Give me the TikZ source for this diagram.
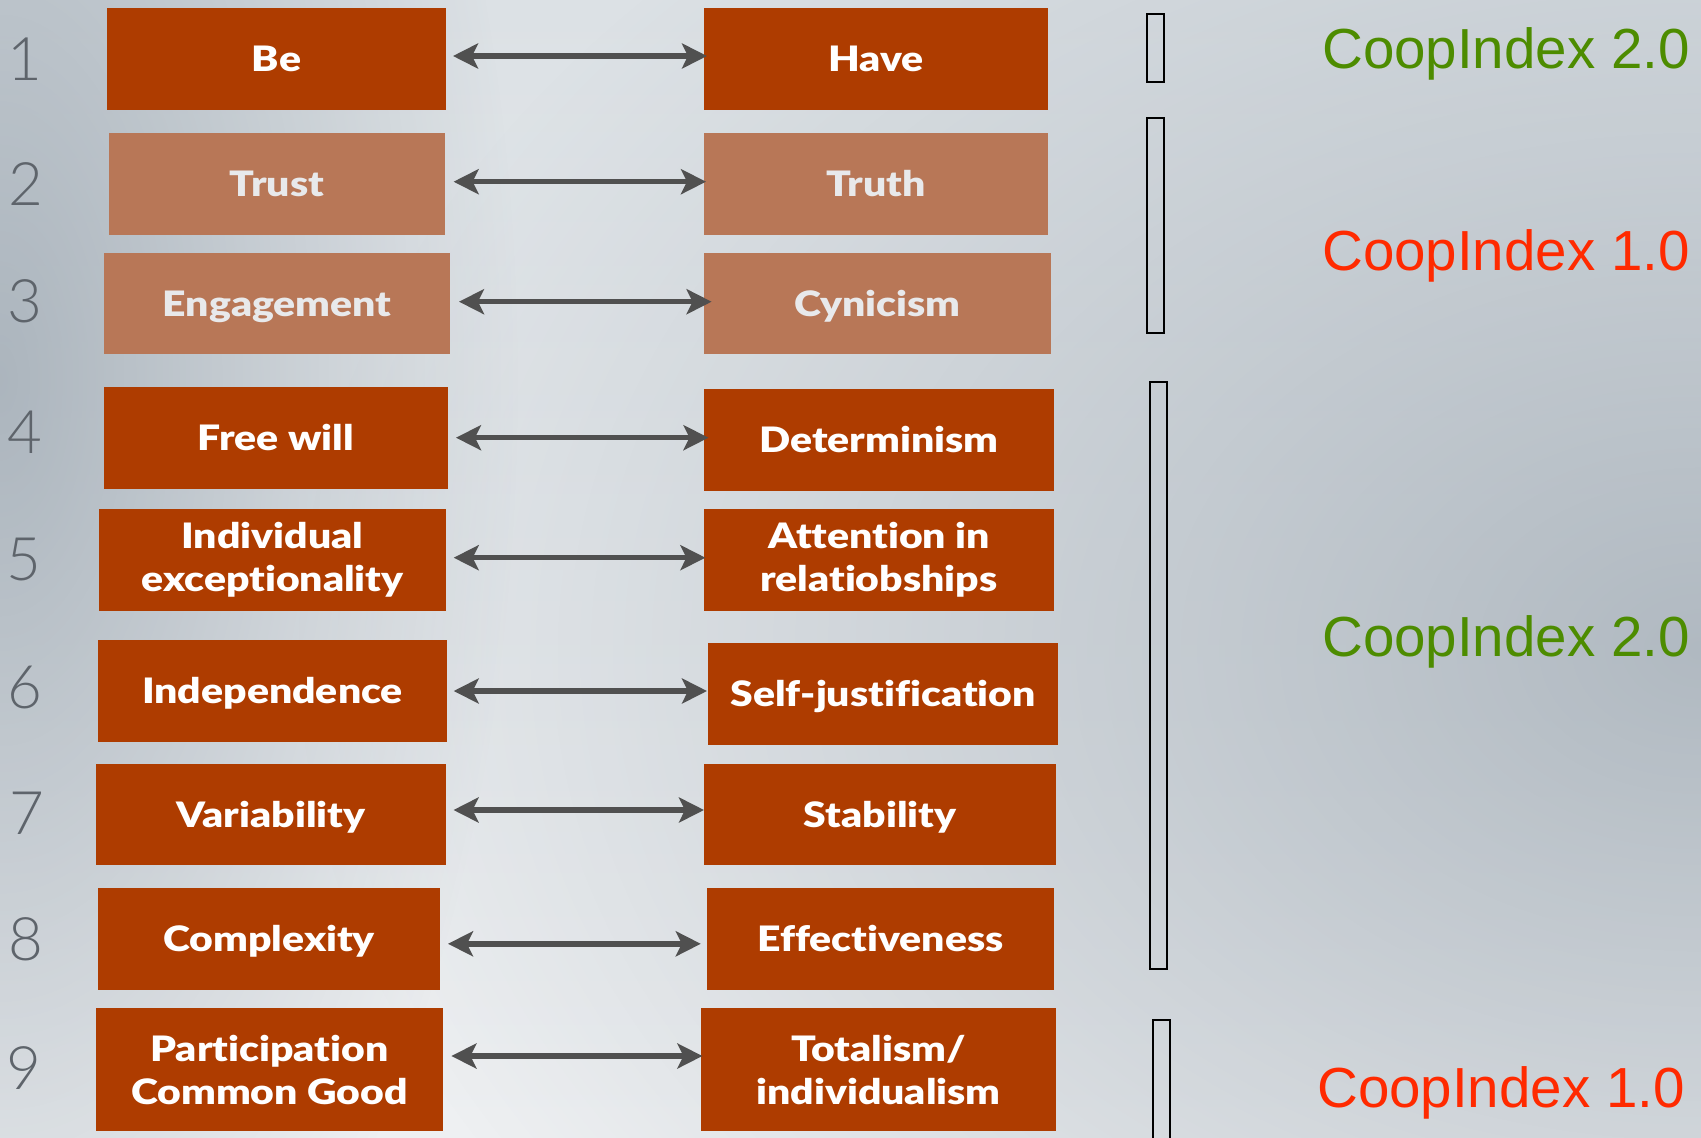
\documentclass[tikz,border=0pt]{standalone}
\usepackage{fontspec}
\usetikzlibrary{arrows.meta,fadings}
\newfontfamily\boxfont{Lato Black}[FakeStretch=1.17, Ligatures=NoCommon]
\newfontfamily\numfont{Lato Light}
\newfontfamily\labfont{Liberation Sans}
\definecolor{boxdark}{HTML}{AE3C00}
\definecolor{boxlight}{HTML}{B87757}
\definecolor{lighttext}{HTML}{E8E9EB}
\definecolor{arrgray}{HTML}{505050}
\definecolor{numgray}{HTML}{5E646B}
\definecolor{coopgreen}{HTML}{4D8C00}
\definecolor{coopred}{HTML}{FF2A00}
\definecolor{bgtop}{HTML}{DCE1E5}
\definecolor{bgmid}{HTML}{CBD1D7}
\definecolor{bgbot}{HTML}{EEF0F2}
\definecolor{sidedark}{HTML}{9AA5AF}
\tikzfading[name=softblob, inner color=transparent!0, outer color=transparent!100]
\begin{document}
\begin{tikzpicture}[x=1pt,y=-1pt,
  pbox/.style={rectangle, inner sep=0pt, outer sep=0pt, anchor=north west,
    font=\boxfont\fontsize{35}{43}\selectfont, align=center},
  dk/.style={pbox, fill=boxdark, text=white},
  lt/.style={pbox, fill=boxlight, text=lighttext},
  one/.style={text height=25pt, text depth=0pt},
  twoarr/.style={draw=arrgray, line width=5.5pt,
    arrows={Stealth[length=25pt,width=25pt,inset=6pt]-Stealth[length=25pt,width=25pt,inset=6pt]}},
  num/.style={font=\numfont\fontsize{60}{60}\selectfont, text=numgray, inner sep=0pt},
  coop/.style={font=\labfont\fontsize{56.5}{57}\selectfont, inner sep=0pt, anchor=base west},
  brk/.style={draw=black, line width=2.2pt}
]
% background
\useasboundingbox (0,0) rectangle (1701,1138);
\shade[top color=bgtop, middle color=bgmid, bottom color=bgbot] (0,0) rectangle (1701,1138);
\begin{scope}
\clip (0,0) rectangle (1701,1138);
\fill[sidedark, path fading=softblob, fill opacity=0.75] (0,380) ellipse [x radius=520, y radius=1100];
\fill[sidedark, path fading=softblob, fill opacity=0.7] (1701,650) ellipse [x radius=1400, y radius=1000];
\end{scope}

% numbers
\node[num] (n1) at (25,58.7) {1};
\node[num] (n2) at (26,184.5) {2};
\node[num] (n3) at (25,301.6) {3};
\node[num] (n4) at (25,432) {4};
\node[num] (n5) at (24,560) {5};
\node[num] (n6) at (25,688) {6};
\node[num] (n7) at (27,813) {7};
\node[num] (n8) at (26,939) {8};
\node[num] (n9) at (24,1068) {9};

% boxes
\node[dk,one,minimum width=339pt,minimum height=102pt] (L1) at (107,8) {Be};
\node[dk,one,minimum width=344pt,minimum height=102pt] (R1) at (704,8) {Have};
\node[lt,one,minimum width=336pt,minimum height=102pt] (L2) at (109,133) {Trust};
\node[lt,one,minimum width=344pt,minimum height=102pt] (R2) at (704,133) {Truth};
\node[lt,one,minimum width=346pt,minimum height=101pt] (L3) at (104,253) {Engagement};
\node[lt,one,minimum width=347pt,minimum height=101pt] (R3) at (704,253) {Cynicism};
\node[dk,one,minimum width=344pt,minimum height=102pt] (L4) at (104,387) {Free will};
\node[dk,one,minimum width=350pt,minimum height=102pt] (R4) at (704,389) {Determinism};
\node[dk,minimum width=347pt,minimum height=102pt] (L5) at (99,509) {Individual\\exceptionality};
\node[dk,minimum width=350pt,minimum height=102pt] (R5) at (704,509) {Attention in\\relatiobships};
\node[dk,one,minimum width=349pt,minimum height=102pt] (L6) at (98,640) {Independence};
\node[dk,one,minimum width=350pt,minimum height=102pt] (R6) at (708,643) {Self-justification};
\node[dk,one,minimum width=350pt,minimum height=101pt] (L7) at (96,764) {Variability};
\node[dk,one,minimum width=352pt,minimum height=101pt] (R7) at (704,764) {Stability};
\node[dk,one,minimum width=342pt,minimum height=102pt] (L8) at (98,888) {Complexity};
\node[dk,one,minimum width=347pt,minimum height=102pt] (R8) at (707,888) {Effectiveness};
\node[dk,minimum width=347pt,minimum height=123pt] (L9) at (96,1008) {Participation\\Common Good};
\node[dk,minimum width=355pt,minimum height=123pt] (R9) at (701,1008) {Totalism/\\individualism};

% arrows
\draw[twoarr] ([xshift=7pt,yshift=3pt]L1.east) -- ([xshift=3pt,yshift=3pt]R1.west);
\draw[twoarr] ([xshift=8.6pt,yshift=2.3pt]L2.east) -- ([xshift=2pt,yshift=2.3pt]R2.west);
\draw[twoarr] ([xshift=9pt,yshift=1.8pt]L3.east) -- ([xshift=7.6pt,yshift=1.8pt]R3.west);
\draw[twoarr] ([xshift=8pt,yshift=0.3pt]L4.east) -- ([xshift=4.5pt,yshift=2.3pt]R4.west);
\draw[twoarr] ([xshift=7.7pt,yshift=2.3pt]L5.east) -- ([xshift=1.4pt,yshift=2.3pt]R5.west);
\draw[twoarr] ([xshift=6.7pt,yshift=0pt]L6.east) -- ([xshift=-1pt,yshift=3pt]R6.west);
\draw[twoarr] ([xshift=7.5pt,yshift=4.5pt]L7.east) -- ([xshift=0pt,yshift=4.5pt]R7.west);
\draw[twoarr] ([xshift=8pt,yshift=-4.8pt]L8.east) -- ([xshift=-6.2pt,yshift=-4.8pt]R8.west);
\draw[twoarr] ([xshift=8.4pt,yshift=13.5pt]L9.east) -- ([xshift=1.4pt,yshift=13.5pt]R9.west);

% brackets
\draw[brk] (1147,14) rectangle (1164,82);
\draw[brk] (1147,118) rectangle (1164,333);
\draw[brk] (1150,382) rectangle (1167,969);
\draw[brk] (1153,1020) rectangle (1170,1160);

% labels
\node[coop, text=coopgreen] (g1) at (1322,68) {CoopIndex 2.0};
\node[coop, text=coopred] (r1) at (1322,270) {CoopIndex 1.0};
\node[coop, text=coopgreen] (g2) at (1322,656) {CoopIndex 2.0};
\node[coop, text=coopred] (r2) at (1317,1107) {CoopIndex 1.0};
\end{tikzpicture}
\end{document}
